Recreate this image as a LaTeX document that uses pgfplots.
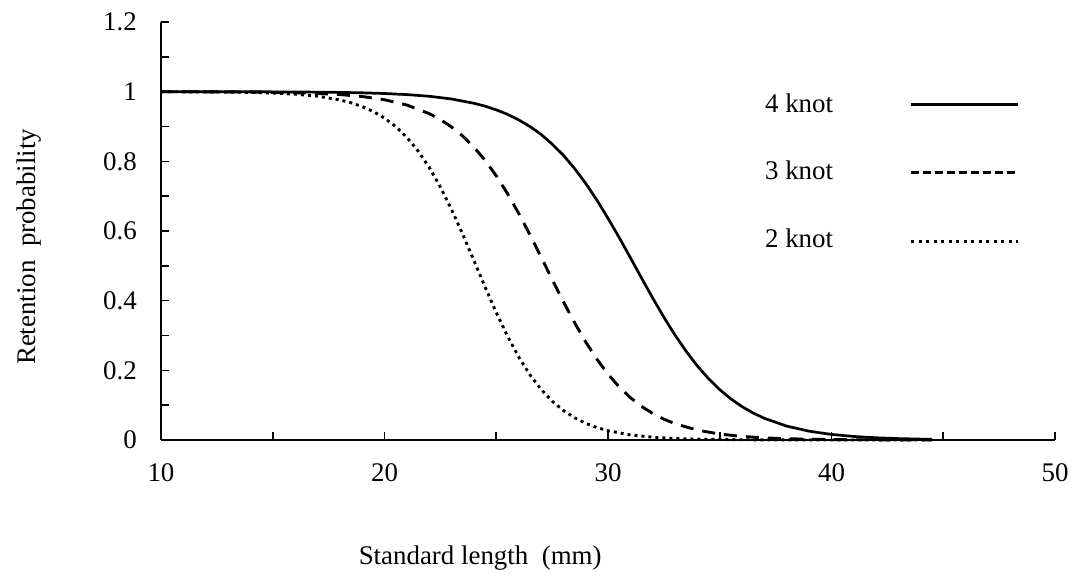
\documentclass[border=0pt]{standalone}
\usepackage{fontspec}
\setmainfont{Liberation Serif}
\usepackage{pgfplots}
\pgfplotsset{compat=1.18}
\begin{document}
\fontsize{27}{32}\selectfont
\begin{tikzpicture}
\begin{axis}[
 name=ax,
 scale only axis,
 width=894bp, height=418bp,
 xmin=10, xmax=50, ymin=0, ymax=1.2,
 axis x line*=bottom, axis y line*=left,
 axis line style={line width=2bp, black},
 tick align=inside,
 major tick length=8bp,
 every tick/.style={black, line width=1.6bp},
 xtick={10,15,...,50},
 xticklabels={10,,20,,30,,40,,50},
 ytick={0,0.1,0.2,0.3,0.4,0.5,0.6,0.7,0.8,0.9,1,1.1,1.2},
 yticklabels={0,,0.2,,0.4,,0.6,,0.8,,1,,1.2},
 xticklabel style={inner sep=0pt, anchor=north, yshift=-23bp},
 yticklabel style={inner sep=0pt, anchor=east, xshift=-24bp},
 xlabel={Standard length\ \ (mm)},
 ylabel={Retention\ \ probability},
 xlabel style={at={(axis description cs:0.357,-0.299)}, anchor=base, inner sep=0pt},
 ylabel style={at={(axis description cs:-0.140,0.462)}, anchor=base, inner sep=0pt},
 clip=false,
]
% 4 knot
\addplot[black, line width=2.7bp] coordinates {
(10,1.0000) (12,0.9999) (14,0.9997) (16,0.9992) (18,0.9979) (19,0.9967) (20,0.9947)
(21,0.9916) (22,0.9868) (23,0.9790) (24,0.9667) (24.5,0.9584) (25,0.9478) (25.5,0.9351)
(26,0.9191) (26.5,0.9003) (27,0.8776) (27.5,0.8496) (28,0.8176) (28.5,0.7797)
(29,0.7369) (29.5,0.6891) (30,0.6365) (30.5,0.5813) (31,0.5235) (31.5,0.4651)
(32,0.4075) (32.5,0.3525) (33,0.3011) (33.5,0.2543) (34,0.2124) (34.5,0.1760)
(35,0.1445) (35.5,0.1179) (36,0.0957) (36.5,0.0773) (37,0.0622) (38,0.0398)
(39,0.0253) (40,0.0160) (41,0.0101) (42,0.0064) (43,0.0040) (44,0.0025) (44.5,0.0020)};
% 3 knot
\addplot[black, line width=2.9bp, dash pattern=on 13bp off 9bp] coordinates {
(10,0.9999) (12,0.9996) (14,0.9990) (16,0.9970) (17,0.9950) (18,0.9917) (19,0.9861)
(20,0.9768) (21,0.9616) (22,0.9370) (22.5,0.9200) (23,0.8985) (23.5,0.8726)
(24,0.8408) (24.5,0.8029) (25,0.7584) (25.5,0.7077) (26,0.6511) (26.5,0.5900)
(27,0.5260) (27.5,0.4611) (28,0.3975) (28.5,0.3372) (29,0.2817) (29.5,0.2322)
(30,0.1891) (30.5,0.1524) (31,0.1217) (31.5,0.0966) (32,0.0762) (32.5,0.0599)
(33,0.0467) (34,0.0283) (35,0.0170) (36,0.0102) (37,0.0061) (38,0.0036)
(40,0.0013) (42,0.0005) (44.5,0.0001)};
% 2 knot
\addplot[black, line width=2.9bp, dash pattern=on 3bp off 4bp] coordinates {
(10,0.9998) (12,0.9994) (14,0.9979) (15,0.9961) (16,0.9929) (17,0.9870) (18,0.9764)
(18.5,0.9682) (19,0.9573) (19.5,0.9430) (20,0.9241) (20.5,0.8999) (21,0.8689)
(21.5,0.8300) (22,0.7826) (22.5,0.7263) (23,0.6617) (23.5,0.5905) (24,0.5152)
(24.5,0.4393) (25,0.3661) (25.5,0.2986) (26,0.2388) (26.5,0.1879) (27,0.1457)
(27.5,0.1116) (28,0.0848) (28.5,0.0639) (29,0.0479) (29.5,0.0358) (30,0.0266)
(31,0.0146) (32,0.0080) (33,0.0044) (34,0.0024) (36,0.0007) (38,0.0002)
(40,0.0001) (44.5,0.0000)};
% legend
\addplot[forget plot, black, line width=2.7bp] coordinates {(43.56,0.963) (48.34,0.963)};
\addplot[forget plot, black, line width=2.9bp, dash pattern=on 8bp off 4bp] coordinates {(43.56,0.767) (48.34,0.767)};
\addplot[forget plot, black, line width=2.9bp, dash pattern=on 3bp off 4.5bp] coordinates {(43.56,0.569) (48.34,0.569)};
\node[anchor=west, inner sep=0pt] at (axis cs:37.02,0.968) {4 knot};
\node[anchor=west, inner sep=0pt] at (axis cs:37.02,0.773) {3 knot};
\node[anchor=west, inner sep=0pt] at (axis cs:37.02,0.578) {2 knot};
\end{axis}
\pgfresetboundingbox
\path ([shift={(-161bp,-138bp)}]ax.south west) rectangle ([shift={(24bp,22bp)}]ax.north east);
\end{tikzpicture}
\end{document}
